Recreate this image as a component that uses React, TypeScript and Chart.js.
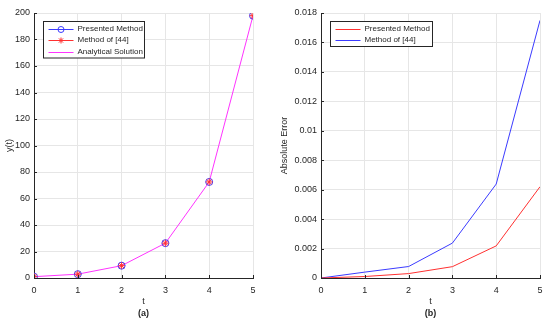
import React, { useEffect, useRef } from "react";
import { Chart, registerables } from "chart.js";

Chart.register(...registerables);

const T = [0, 1, 2, 3, 4, 5];
const presentedY = [1, 2.9, 9.3, 26.3, 72.5, 198];
const method44Y = [1, 2.9, 9.3, 26.3, 72.5, 198];
const analyticalY = [1, 2.9, 9.3, 26.3, 72.5, 198];
const presentedErr = [0, 0.0001, 0.0003, 0.00077, 0.00218, 0.0062];
const method44Err = [0, 0.0004, 0.00078, 0.00237, 0.00638, 0.0175];

const yTicksA = [0, 20, 40, 60, 80, 100, 120, 140, 160, 180, 200];
const yTicksB = [0, 0.002, 0.004, 0.006, 0.008, 0.01, 0.012, 0.014, 0.016, 0.018];
const xTicks = [0, 1, 2, 3, 4, 5];

const FONT = "'Liberation Sans', Arial, Helvetica, sans-serif";
const TEXT = "#262626";
const AXIS = "#262626";
const GRID = "#e6e6e6";
const BLUE = "#3b3bff";
const RED = "#ff3030";
const MAGENTA = "#ff33ff";
const TICK_SIZE = 9;
const LEGEND_SIZE = 8;

type LegendEntry = { label: string; color: string; marker?: "circle" | "star" };

function pts(ys: number[]) {
  return T.map((t, i) => ({ x: t, y: ys[i] }));
}

function drawMarker(ctx: CanvasRenderingContext2D, kind: string, x: number, y: number, color: string) {
  ctx.save();
  ctx.strokeStyle = color;
  ctx.lineWidth = 1;
  if (kind === "circle") {
    ctx.beginPath();
    ctx.arc(x, y, 3, 0, Math.PI * 2);
    ctx.stroke();
  } else if (kind === "star") {
    const r = 3;
    ctx.beginPath();
    ctx.moveTo(x - r, y);
    ctx.lineTo(x + r, y);
    ctx.moveTo(x, y - r);
    ctx.lineTo(x, y + r);
    ctx.moveTo(x - r * 0.7, y - r * 0.7);
    ctx.lineTo(x + r * 0.7, y + r * 0.7);
    ctx.moveTo(x - r * 0.7, y + r * 0.7);
    ctx.lineTo(x + r * 0.7, y - r * 0.7);
    ctx.stroke();
  }
  ctx.restore();
}

function makePlugins(entries: LegendEntry[], boxW: number, caption: string, xTitle: string, yTitle: string) {
  return [
    {
      id: "matlabDecor",
      afterDraw(chart: any) {
        const ctx: CanvasRenderingContext2D = chart.ctx;
        const a = chart.chartArea;
        const xs = chart.scales.x;
        const ys = chart.scales.y;
        // inward ticks
        ctx.save();
        ctx.strokeStyle = AXIS;
        ctx.lineWidth = 1;
        ctx.beginPath();
        xs.ticks.forEach((tk: any) => {
          const px = Math.round(xs.getPixelForValue(tk.value)) + 0.5;
          ctx.moveTo(px, a.bottom);
          ctx.lineTo(px, a.bottom - 3);
        });
        ys.ticks.forEach((tk: any) => {
          const py = Math.round(ys.getPixelForValue(tk.value)) + 0.5;
          ctx.moveTo(a.left, py);
          ctx.lineTo(a.left + 3, py);
        });
        ctx.stroke();
        ctx.restore();

        // legend
        const bx = a.left + 9.5;
        const by = a.top + 8.5;
        const rowH = 11.5;
        const bh = entries.length * rowH + 2;
        ctx.save();
        ctx.fillStyle = "#ffffff";
        ctx.fillRect(bx, by, boxW, bh);
        ctx.strokeStyle = "#262626";
        ctx.lineWidth = 1;
        ctx.strokeRect(bx, by, boxW, bh);
        ctx.font = LEGEND_SIZE + "px " + FONT;
        ctx.textBaseline = "middle";
        ctx.textAlign = "left";
        entries.forEach((e, i) => {
          const cy = by + 1 + rowH * i + rowH / 2 + 0.5;
          const x0 = bx + 5;
          const x1 = bx + 30;
          ctx.strokeStyle = e.color;
          ctx.lineWidth = 1;
          ctx.beginPath();
          ctx.moveTo(x0, Math.round(cy) + 0.5);
          ctx.lineTo(x1, Math.round(cy) + 0.5);
          ctx.stroke();
          if (e.marker) drawMarker(ctx, e.marker, (x0 + x1) / 2, Math.round(cy) + 0.5, e.color);
          ctx.fillStyle = TEXT;
          ctx.fillText(e.label, bx + 34, cy);
        });
        ctx.restore();

        // axis titles and caption
        ctx.save();
        ctx.fillStyle = TEXT;
        ctx.textAlign = "center";
        ctx.textBaseline = "middle";
        ctx.font = TICK_SIZE + "px " + FONT;
        ctx.fillText(xTitle, (a.left + a.right) / 2, a.bottom + 24);
        ctx.save();
        ctx.translate(10, (a.top + a.bottom) / 2);
        ctx.rotate(-Math.PI / 2);
        ctx.fillText(yTitle, 0, 0);
        ctx.restore();
        ctx.font = "bold " + TICK_SIZE + "px " + FONT;
        ctx.fillText(caption, (a.left + a.right) / 2, a.bottom + 36);
        ctx.restore();
      },
    },
  ];
}

function baseOptions(yTicks: number[], yWidth: number, rightPad: number, fmt: (v: number) => string) {
  return {
    responsive: false,
    animation: false as const,
    layout: { padding: { top: 13, right: rightPad, left: 0, bottom: 0 } },
    plugins: { legend: { display: false }, tooltip: { enabled: false } },
    scales: {
      x: {
        type: "linear" as const,
        min: 0,
        max: 5,
        afterBuildTicks(scale: any) {
          scale.ticks = xTicks.map((v) => ({ value: v }));
        },
        afterFit(scale: any) {
          scale.height = 46;
        },
        grid: { color: GRID, drawTicks: false, tickLength: 0 },
        border: { display: true, color: AXIS, width: 1 },
        ticks: { color: TEXT, font: { family: FONT, size: TICK_SIZE }, padding: 7, maxRotation: 0 },
        title: { display: false },
      },
      y: {
        type: "linear" as const,
        min: yTicks[0],
        max: yTicks[yTicks.length - 1],
        afterBuildTicks(scale: any) {
          scale.ticks = yTicks.map((v) => ({ value: v }));
        },
        afterFit(scale: any) {
          scale.width = yWidth;
        },
        grid: { color: GRID, drawTicks: false, tickLength: 0 },
        border: { display: true, color: AXIS, width: 1 },
        ticks: {
          color: TEXT,
          font: { family: FONT, size: TICK_SIZE },
          padding: 4,
          callback: (v: any) => fmt(Number(v)),
        },
        title: { display: false },
      },
    },
  };
}

function ChartA() {
  const ref = useRef<HTMLCanvasElement>(null);
  useEffect(() => {
    if (!ref.current) return;
    const chart = new Chart(ref.current, {
      type: "line",
      data: {
        datasets: [
          {
            label: "Analytical Solution",
            data: pts(analyticalY),
            borderColor: MAGENTA,
            borderWidth: 1,
            pointRadius: 0,
            order: 3,
          },
          {
            label: "Method of [44]",
            data: pts(method44Y),
            borderColor: RED,
            borderWidth: 1,
            pointStyle: "star",
            pointRadius: 3.5,
            pointBorderColor: RED,
            pointBorderWidth: 1,
            showLine: false,
            order: 1,
          },
          {
            label: "Presented Method",
            data: pts(presentedY),
            borderColor: BLUE,
            borderWidth: 1,
            pointStyle: "circle",
            pointRadius: 3.5,
            pointBorderColor: BLUE,
            pointBackgroundColor: "rgba(0,0,0,0)",
            pointBorderWidth: 1,
            showLine: false,
            order: 2,
          },
        ],
      },
      options: baseOptions(yTicksA, 34, 22, (v) => String(v)) as any,
      plugins: makePlugins(
        [
          { label: "Presented Method", color: BLUE, marker: "circle" },
          { label: "Method of [44]", color: RED, marker: "star" },
          { label: "Analytical Solution", color: MAGENTA },
        ],
        101,
        "(a)",
        "t",
        "y(t)"
      ) as any,
    });
    return () => chart.destroy();
  }, []);
  return <canvas ref={ref} width={275} height={324} style={{ width: 275, height: 324, display: "block" }} />;
}

function ChartB() {
  const ref = useRef<HTMLCanvasElement>(null);
  useEffect(() => {
    if (!ref.current) return;
    const chart = new Chart(ref.current, {
      type: "line",
      data: {
        datasets: [
          {
            label: "Presented Method",
            data: pts(presentedErr),
            borderColor: RED,
            borderWidth: 1,
            pointRadius: 0,
          },
          {
            label: "Method of [44]",
            data: pts(method44Err),
            borderColor: BLUE,
            borderWidth: 1,
            pointRadius: 0,
          },
        ],
      },
      options: baseOptions(yTicksB, 46, 10, (v) => (v === 0 ? "0" : String(Number(v.toFixed(3))))) as any,
      plugins: makePlugins(
        [
          { label: "Presented Method", color: RED },
          { label: "Method of [44]", color: BLUE },
        ],
        102,
        "(b)",
        "t",
        "Absolute Error"
      ) as any,
    });
    return () => chart.destroy();
  }, []);
  return <canvas ref={ref} width={275} height={324} style={{ width: 275, height: 324, display: "block" }} />;
}

export default function App() {
  return (
    <div style={{ position: "absolute", left: 0, top: 0, width: 550, height: 324, display: "flex", background: "#ffffff" }}>
      <ChartA />
      <ChartB />
    </div>
  );
}
